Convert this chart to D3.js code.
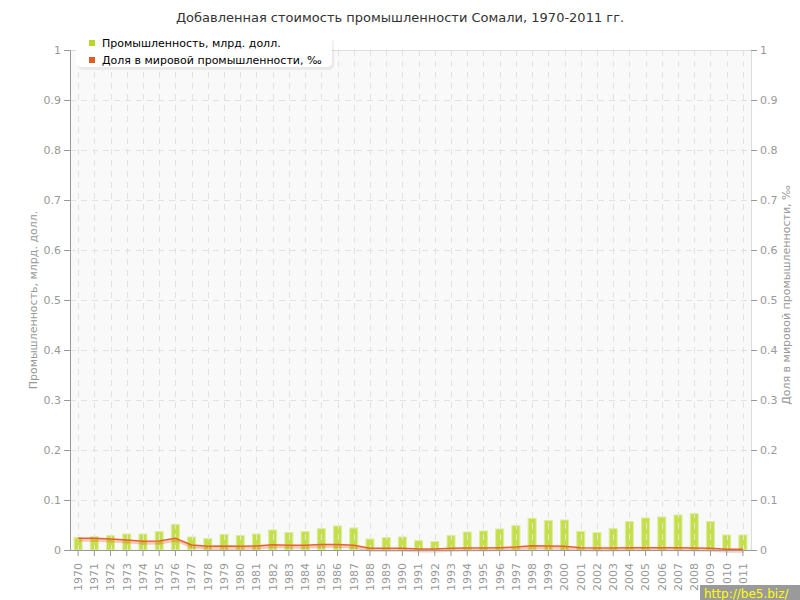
<!DOCTYPE html>
<html><head><meta charset="utf-8">
<script src="https://cdn.jsdelivr.net/npm/d3@7/dist/d3.min.js"></script>
<style>body{margin:0;background:#fff}svg{display:block}text{font-family:"DejaVu Sans",Verdana,sans-serif}</style>
</head><body><svg id="c" width="800" height="600"></svg>
<script>
const years = d3.range(1970, 2012).map(String);
const industry = [0.0247,0.0267,0.0287,0.032,0.032,0.0367,0.0513,0.026,0.0227,0.0313,0.0287,0.032,0.04,0.0347,
  0.0367,0.0427,0.048,0.044,0.022,0.0247,0.026,0.0187,0.0167,0.0287,0.036,0.038,0.042,0.0487,
  0.0633,0.0587,0.06,0.0373,0.0347,0.0427,0.0567,0.064,0.066,0.07,0.0727,0.0567,0.03,0.03];
const share = [0.0233,0.0233,0.022,0.02,0.0173,0.018,0.0233,0.01,0.0073,0.008,0.0073,0.008,0.0107,0.0093,
  0.0093,0.011,0.011,0.0093,0.0033,0.0033,0.0033,0.002,0.002,0.0033,0.004,0.004,0.0047,0.006,
  0.0087,0.008,0.0073,0.0047,0.004,0.004,0.0047,0.0047,0.0047,0.0047,0.004,0.0033,0.0013,0.0013];
const yTicks = [0,0.1,0.2,0.3,0.4,0.5,0.6,0.7,0.8,0.9,1];
const title = "Добавленная стоимость промышленности Сомали, 1970-2011 гг.";
const leftTitle = "Промышленность, млрд. долл.";
const rightTitle = "Доля в мировой промышленности, ‰";
const legendLabels = ["Промышленность, млрд. долл.", "Доля в мировой промышленности, ‰"];

const svg = d3.select("#c");
const L = 70, R = 751, T = 50, B = 550;
const x = d3.scaleBand().domain(years).range([L, R]);
const y = d3.scaleLinear().domain([0, 1]).range([B, T]);
const y2 = d3.scaleLinear().domain([0, 1]).range([B, T]);
const fmt = d => d === 0 ? "0" : (d === 1 ? "1" : String(d));

svg.append("rect").attr("x", L).attr("y", T).attr("width", R - L).attr("height", B - T).attr("fill", "#f9f9f9");

// bars
svg.append("g").selectAll("rect").data(industry).join("rect")
  .attr("x", (d, i) => x(years[i]) + x.bandwidth() / 2 - 4)
  .attr("width", 8)
  .attr("y", d => y(d))
  .attr("height", d => B - y(d))
  .attr("fill", "#c4df4a").attr("stroke", "#dcee98").attr("stroke-width", 1);

// grid
const grid = svg.append("g").attr("stroke", "#e2e2e2").attr("stroke-dasharray", "6,5").attr("stroke-width", 1);
yTicks.filter(t => t > 0 && t < 1).forEach(t => {
  grid.append("line").attr("x1", L).attr("x2", R).attr("y1", Math.round(y(t)) + 0.5).attr("y2", Math.round(y(t)) + 0.5);
});
years.forEach(yr => {
  const cx = Math.round(x(yr) + x.bandwidth() / 2) + 0.5;
  grid.append("line").attr("x1", cx).attr("x2", cx).attr("y1", T).attr("y2", B);
});
svg.append("line").attr("x1", L).attr("x2", R).attr("y1", T + 0.5).attr("y2", T + 0.5).attr("stroke", "#ddd");

// line
const line = d3.line().x((d, i) => x(years[i]) + x.bandwidth() / 2).y(d => y2(d));
svg.append("path").datum(share).attr("d", line).attr("fill", "none")
  .attr("stroke", "#e8612c").attr("stroke-opacity", 0.3).attr("stroke-width", 3).attr("transform", "translate(1,2)");
svg.append("path").datum(share).attr("d", line).attr("fill", "none")
  .attr("stroke", "#e8612c").attr("stroke-width", 1.5);

// axes
const gl = svg.append("g").attr("transform", `translate(${L},0)`)
  .call(d3.axisLeft(y).tickValues(yTicks).tickFormat(fmt).tickSize(6).tickPadding(3));
gl.select(".domain").attr("stroke", "#999");
gl.selectAll(".tick line").attr("stroke", "#999");
gl.selectAll("text").attr("fill", "#999").style("font-size", "11px");

const gr = svg.append("g").attr("transform", `translate(${R},0)`)
  .call(d3.axisRight(y2).tickValues(yTicks).tickFormat(fmt).tickSize(6).tickPadding(3));
gr.select(".domain").attr("stroke", "#ddd");
gr.selectAll(".tick line").attr("stroke", "#999");
gr.selectAll("text").attr("fill", "#999").style("font-size", "11px");

const gb = svg.append("g").attr("transform", `translate(0,${B})`)
  .call(d3.axisBottom(x).tickSize(6).tickSizeOuter(0).tickPadding(3));
gb.select(".domain").attr("stroke", "#999");
gb.selectAll(".tick line").attr("stroke", "#999");
gb.selectAll("text").attr("fill", "#999").style("font-size", "11px")
  .attr("transform", "rotate(-90)").attr("text-anchor", "end").attr("dy", "0.35em").attr("x", -13).attr("y", 0);

// titles
svg.append("text").attr("x", 400).attr("y", 22).attr("text-anchor", "middle")
  .attr("fill", "#333").style("font-size", "13px").text(title);
svg.append("text").attr("transform", "translate(37,300) rotate(-90)").attr("text-anchor", "middle")
  .attr("fill", "#999").style("font-size", "11px").text(leftTitle);
svg.append("text").attr("transform", "translate(790,295) rotate(-90)").attr("text-anchor", "middle")
  .attr("fill", "#999").style("font-size", "11px").text(rightTitle);

// legend
const lg = svg.append("g");
lg.append("rect").attr("x", 78).attr("y", 38).attr("width", 256).attr("height", 32).attr("rx", 5)
  .attr("fill", "#000").attr("opacity", 0.06);
lg.append("rect").attr("x", 76).attr("y", 35).attr("width", 256).attr("height", 32).attr("rx", 5)
  .attr("fill", "#fff");
const colors = ["#b8d92a", "#e05c25"];
legendLabels.forEach((t, i) => {
  lg.append("rect").attr("x", 89).attr("y", 40 + i * 17).attr("width", 6).attr("height", 6).attr("fill", colors[i]);
  lg.append("text").attr("x", 102).attr("y", 47 + i * 17).attr("fill", "#000").style("font-size", "11px").text(t);
});

// watermark
svg.append("rect").attr("x", 700).attr("y", 585).attr("width", 100).attr("height", 15).attr("fill", "#9a9a9a");
svg.append("text").attr("x", 704).attr("y", 598).attr("fill", "#ffff00").style("font-size", "12px").text("http://be5.biz/");
</script></body></html>
